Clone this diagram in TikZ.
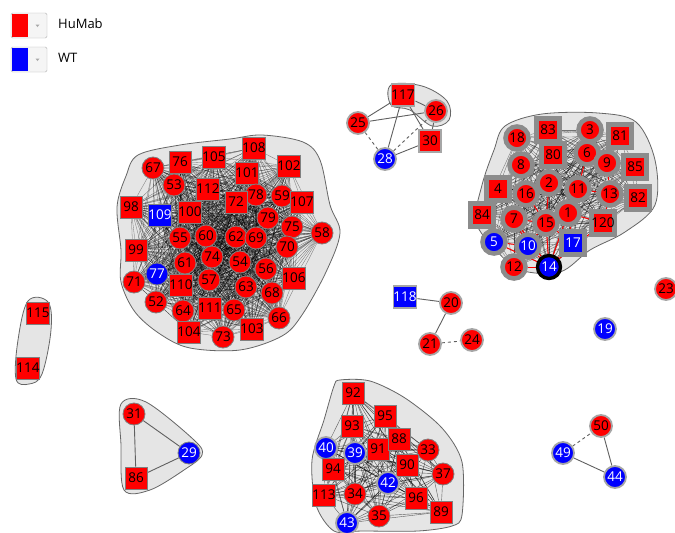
\documentclass[tikz,border=0pt]{standalone}
\usepackage{fontspec}
\setmainfont{Open Sans}
\pgfdeclarelayer{bg}
\pgfdeclarelayer{hulls}
\pgfdeclarelayer{edges}
\pgfsetlayers{bg,hulls,edges,main}
\newcommand\allpairs[2]{%
  \foreach \a [count=\i] in {#2} {%
    \foreach \b [count=\j] in {#2} {%
      \ifnum\j>\i \draw[#1] (\a) -- (\b);\fi}}}
\begin{document}
\begin{tikzpicture}[x=1pt,y=-1pt,
  base/.style={inner sep=0pt, font=\fontsize{13.5}{13.5}\selectfont},
  rc/.style={base, circle, minimum size=22, fill=red, draw=gray, line width=0.8},
  rs/.style={base, rectangle, minimum size=22, fill=red, draw=gray, line width=0.8},
  bc/.style={rc, fill=blue, text=white},
  bs/.style={rs, fill=blue, text=white},
  tb/.style={line width=4.6, draw=gray!90, minimum size=23},
  halo/.style={line width=1.8, draw=gray!70},
  hull/.style={fill=black!10, draw=gray!80!black, line width=0.8},
  bigedge/.style={line width=0.3, black, opacity=0.5},
  rightedge/.style={line width=0.35, black, opacity=0.5},
  botedge/.style={line width=0.4, black, opacity=0.6},
  smalledge/.style={line width=0.9, gray!75!black},
  redge/.style={line width=1, red},
  legtext/.style={anchor=west, inner sep=0pt, font=\fontsize{13}{13}\selectfont}
]
\useasboundingbox (0,0) rectangle (675,533);
\begin{pgfonlayer}{bg}
\fill[white] (0,0) rectangle (675,533);
\end{pgfonlayer}

% ---------- legend ----------
\foreach \y/\c/\t/\nm in {13/red/HuMab/lh, 47/blue/WT/lw} {
  \draw[gray!60, fill=gray!8, rounded corners=1.5] (11,\y) rectangle (47,\y+25);
  \fill[\c] (12,\y+1) rectangle (28,\y+24);
  \fill[gray!70] (35.5,\y+11.5) -- (39.5,\y+11.5) -- (37.5,\y+14) -- cycle;
  \node[legtext] (\nm) at (58,\y+11) {\t};
}

% ---------- big cluster ----------
\node[rc] (n67) at (153,168) {67};
\node[rs] (n76) at (180,162) {76};
\node[rs] (n105) at (214,157) {105};
\node[rs] (n108) at (254,148) {108};
\node[rs] (n102) at (289,166) {102};
\node[rc] (n53) at (174,185) {53};
\node[rs] (n112) at (208,189) {112};
\node[rs] (n101) at (247,173) {101};
\node[rc] (n78) at (256,195) {78};
\node[rc] (n59) at (282,196) {59};
\node[rs] (n107) at (302,202) {107};
\node[rs] (n72) at (236,202) {72};
\node[rs] (n98) at (131,207) {98};
\node[bs] (n109) at (160,215) {109};
\node[rs] (n100) at (190,212) {100};
\node[rc] (n79) at (268,218) {79};
\node[rc] (n75) at (292,227) {75};
\node[rc] (n58) at (322,233) {58};
\node[rc] (n55) at (180,238) {55};
\node[rc] (n60) at (206,236) {60};
\node[rc] (n62) at (236,237) {62};
\node[rc] (n69) at (256,238) {69};
\node[rc] (n70) at (287,247) {70};
\node[rs] (n99) at (136,250) {99};
\node[rc] (n74) at (212,257) {74};
\node[rc] (n54) at (240,262) {54};
\node[rc] (n61) at (185,263) {61};
\node[rc] (n56) at (266,269) {56};
\node[bc] (n77) at (157,274) {77};
\node[rc] (n71) at (134,282) {71};
\node[rs] (n106) at (294,278) {106};
\node[rs] (n110) at (181,285) {110};
\node[rc] (n57) at (209,280) {57};
\node[rc] (n63) at (246,287) {63};
\node[rc] (n68) at (272,293) {68};
\node[rc] (n52) at (156,302) {52};
\node[rc] (n64) at (183,311) {64};
\node[rs] (n111) at (210,308) {111};
\node[rc] (n65) at (234,310) {65};
\node[rc] (n66) at (279,318) {66};
\node[rs] (n104) at (189,332) {104};
\node[rc] (n73) at (223,337) {73};
\node[rs] (n103) at (252,329) {103};

% ---------- right cluster ----------
\node[rc,tb] (n18) at (517,138) {18};
\node[rs,tb] (n83) at (548,130) {83};
\node[rc,tb] (n3) at (590,130) {3};
\node[rs,tb] (n81) at (620,136) {81};
\node[rc,tb] (n8) at (521,165) {8};
\node[rs,tb] (n80) at (553,155) {80};
\node[rc,tb] (n6) at (587,153) {6};
\node[rc,tb] (n9) at (607,163) {9};
\node[rs,tb] (n85) at (635,167) {85};
\node[rs,tb] (n4) at (498,189) {4};
\node[rc,tb] (n16) at (526,194) {16};
\node[rc,tb] (n2) at (549,183) {2};
\node[rc,tb] (n11) at (578,189) {11};
\node[rc,tb] (n13) at (610,194) {13};
\node[rs,tb] (n82) at (638,198) {82};
\node[rs,tb] (n84) at (482,215) {84};
\node[rc,tb] (n7) at (514,219) {7};
\node[rc,tb] (n15) at (546,223) {15};
\node[rc,tb] (n1) at (568,213) {1};
\node[rs,tb] (n120) at (603,223) {120};
\node[bc,tb] (n5) at (494,242) {5};
\node[bc,tb] (n10) at (528,246) {10};
\node[bs,tb] (n17) at (573,243) {17};
\node[rc,tb] (n12) at (514,267) {12};
\node[bc,line width=3.4,draw=black,minimum size=23] (n14) at (549,267) {14};
\node[rc,halo] (n23) at (666,289) {23};
\node[bc,halo] (n19) at (605,329) {19};

% ---------- top small cluster ----------
\node[rs,halo] (n117) at (403,95) {117};
\node[rc,halo] (n26) at (436,111) {26};
\node[rc,halo] (n25) at (358,123) {25};
\node[rs,halo] (n30) at (430,141) {30};
\node[bc,halo] (n28) at (385,159) {28};

% ---------- bottom cluster ----------
\node[rs] (n92) at (353,393) {92};
\node[rs] (n95) at (385,416) {95};
\node[rs] (n93) at (352,426) {93};
\node[bc,halo] (n40) at (326,448) {40};
\node[bc,halo] (n39) at (355,453) {39};
\node[rs] (n91) at (378,449) {91};
\node[rs] (n88) at (399,439) {88};
\node[rc] (n33) at (428,450) {33};
\node[rs] (n94) at (333,469) {94};
\node[rs] (n90) at (407,465) {90};
\node[rc] (n37) at (443,474) {37};
\node[bc,halo] (n42) at (388,483) {42};
\node[rs] (n113) at (324,495) {113};
\node[rc] (n34) at (355,494) {34};
\node[rs] (n96) at (416,498) {96};
\node[rs] (n89) at (441,512) {89};
\node[rc] (n35) at (379,516) {35};
\node[bc,halo] (n43) at (347,523) {43};

% ---------- middle / small groups ----------
\node[bs,halo] (n118) at (405,297) {118};
\node[rc,halo] (n20) at (451,303) {20};
\node[rc,halo] (n21) at (430,344) {21};
\node[rc,halo] (n24) at (472,340) {24};

\node[rs] (n115) at (38,313) {115};
\node[rs] (n114) at (28,368) {114};

\node[rc] (n31) at (134,414) {31};
\node[bc] (n29) at (189,453) {29};
\node[rs] (n86) at (136,478) {86};

\node[rc,halo] (n50) at (601,426) {50};
\node[bc,halo] (n49) at (563,453) {49};
\node[bc,halo] (n44) at (615,477) {44};

% ---------- hulls ----------
\begin{pgfonlayer}{hulls}
\draw[hull] plot[smooth cycle, tension=0.55] coordinates {
  (138,155) (180,145) (230,139) (262,135) (303,142) (320,160) (330,205)
  (340,233) (326,272) (302,315) (282,336) (240,350) (190,348) (160,334)
  (135,312) (121,282) (121,250) (117,207) (126,176)};
\draw[hull] plot[smooth cycle, tension=0.55] coordinates {
  (505,126) (542,114) (598,113) (636,122) (655,160) (655,205) (625,232)
  (590,250) (560,272) (520,270) (496,250) (476,222) (482,185) (494,150)};
\draw[hull] plot[smooth cycle, tension=0.6] coordinates {
  (391,85) (422,86) (447,101) (449,120) (432,126) (410,110) (391,105)};
\draw[hull] plot[smooth cycle, tension=0.6] coordinates {
  (28,301) (48,302) (51,330) (42,374) (29,384) (16,379) (18,340)};
\draw[hull] plot[smooth cycle, tension=0.55] coordinates {
  (121,404) (146,402) (194,440) (202,455) (184,470) (150,490) (124,490) (121,445)};
\draw[hull] plot[smooth cycle, tension=0.5] coordinates {
  (340,380) (370,381) (405,398) (442,428) (462,462) (462,515) (452,526)
  (418,531) (362,531) (334,531) (316,505) (312,460) (324,420) (334,386)};
\end{pgfonlayer}

% ---------- edges ----------
\begin{pgfonlayer}{edges}
\allpairs{bigedge}{n67,n76,n105,n108,n102,n53,n112,n101,n78,n59,n107,n72,n98,n109,n100,n79,n75,n58,n55,n60,n62,n69,n70,n99,n74,n54,n61,n56,n77,n71,n106,n110,n57,n63,n68,n52,n64,n111,n65,n66,n104,n73,n103}
\allpairs{rightedge}{n18,n83,n3,n81,n8,n80,n6,n9,n85,n4,n16,n2,n11,n13,n82,n84,n7,n15,n1,n120,n5,n10,n17,n12,n14}
\foreach \t in {n10,n12,n15,n1,n17,n7,n5,n120} {\draw[redge] (n14) -- (\t);}
\foreach \s/\t in {n10/n15,n10/n7,n12/n10,n17/n1,n17/n15,n7/n15,n5/n10,n120/n1,n13/n120,n11/n13,n6/n11,n9/n13,n16/n15,n2/n15} {\draw[redge] (\s) -- (\t);}
\allpairs{botedge}{n92,n95,n93,n40,n39,n91,n88,n33,n94,n90,n37,n42,n113,n34,n96,n89,n35,n43}
% top small cluster
\draw[smalledge] (n117) -- (n25);
\draw[smalledge] (n117) -- (n28);
\draw[smalledge] (n117) -- (n30);
\draw[smalledge] (n117) -- (n26);
\draw[smalledge] (n25) -- (n26);
\draw[smalledge] (n26) -- (n30);
\draw[smalledge] (n28) -- (n30);
\draw[smalledge, dashed] (n25) -- (n28);
\draw[smalledge, dashed] (n28) -- (n26);
% middle
\draw[smalledge] (n118) -- (n20);
\draw[smalledge] (n20) -- (n21);
\draw[smalledge, dashed] (n21) -- (n24);
% triangle
\draw[smalledge] (n31) -- (n29);
\draw[smalledge] (n31) -- (n86);
\draw[smalledge] (n86) -- (n29);
% bottom right
\draw[smalledge, dashed] (n49) -- (n50);
\draw[smalledge] (n50) -- (n44);
\draw[smalledge] (n49) -- (n44);
\end{pgfonlayer}
\end{tikzpicture}
\end{document}
